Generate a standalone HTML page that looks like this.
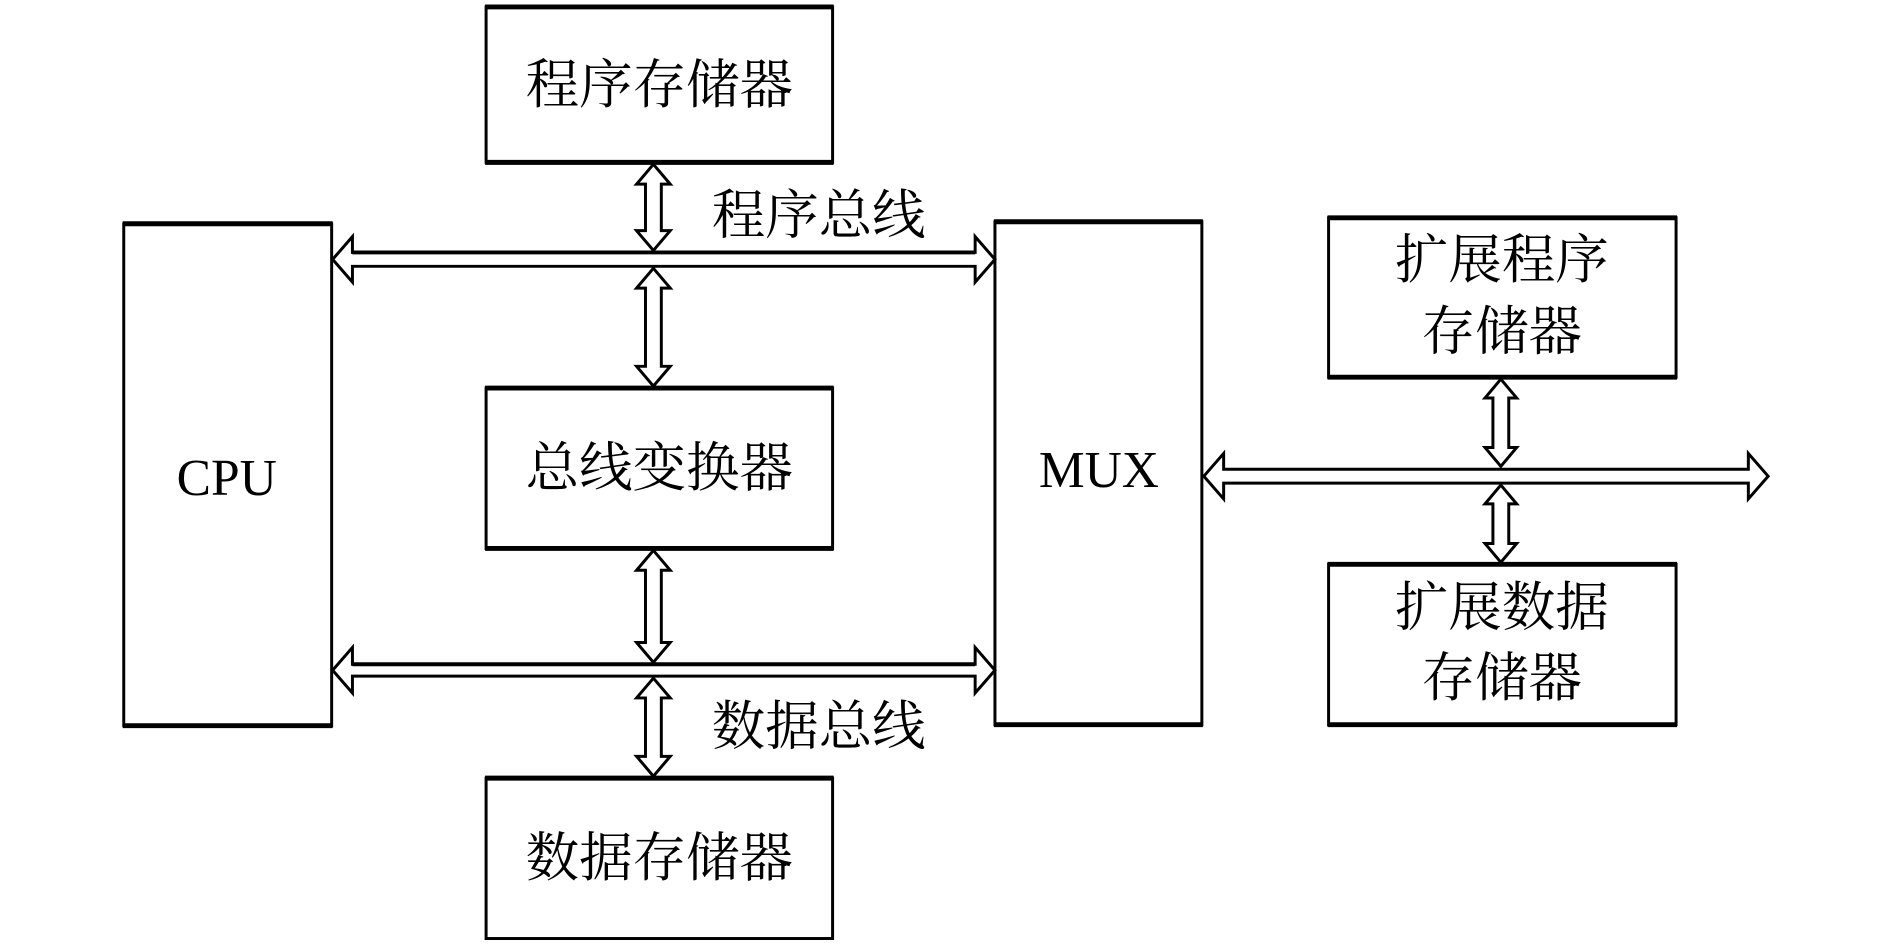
<!DOCTYPE html>
<html><head><meta charset="utf-8"><style>
html,body{margin:0;padding:0;background:#fff;}
svg{display:block;}
text{font-family:"Liberation Serif","Noto Serif CJK SC",serif;fill:#000;}
</style></head><body>
<svg width="1890" height="950" viewBox="0 0 1890 950" xmlns="http://www.w3.org/2000/svg">
<g transform="scale(0.99)">
<g fill="#fff" stroke="#000" stroke-width="3">
<rect x="491" y="7" width="350" height="157"/>
<rect x="125" y="226" width="210" height="507"/>
<rect x="1005" y="224" width="209" height="508"/>
<rect x="491" y="392" width="350" height="162"/>
<rect x="491" y="786" width="350" height="162"/>
<rect x="1342" y="220" width="351" height="161"/>
<rect x="1342" y="570" width="351" height="162"/>
</g>
<g stroke="#000" stroke-width="5">
<line x1="490" y1="7" x2="842" y2="7"/><line x1="490" y1="164" x2="842" y2="164"/>
<line x1="124" y1="226" x2="336" y2="226"/><line x1="124" y1="733" x2="336" y2="733"/>
<line x1="1004" y1="224" x2="1215" y2="224"/><line x1="1004" y1="732" x2="1215" y2="732"/>
<line x1="490" y1="392" x2="842" y2="392"/><line x1="490" y1="554" x2="842" y2="554"/>
<line x1="490" y1="786" x2="842" y2="786"/>
<line x1="1341" y1="220" x2="1694" y2="220"/><line x1="1341" y1="381" x2="1694" y2="381"/>
<line x1="1341" y1="570" x2="1694" y2="570"/><line x1="1341" y1="732" x2="1694" y2="732"/>
</g>
<g fill="#fff" stroke="#000" stroke-width="3" stroke-linejoin="miter">
<polygon points="660,166 677,186 668,186 668,233 677,233 660,253 643,233 652,233 652,186 643,186"/>
<polygon points="660,271 677,291 668,291 668,370 677,370 660,390 643,370 652,370 652,291 643,291"/>
<polygon points="660,556 677,576 668,576 668,649 677,649 660,669 643,649 652,649 652,576 643,576"/>
<polygon points="660,685 677,705 668,705 668,764 677,764 660,784 643,764 652,764 652,705 643,705"/>
<polygon points="1516,383 1532,402 1524,402 1524,452 1532,452 1516,471 1500,452 1508,452 1508,402 1500,402"/>
<polygon points="1516,490 1532,509 1524,509 1524,549 1532,549 1516,568 1500,549 1508,549 1508,509 1500,509"/>
<polygon points="336,262 356,239 356,255 985,255 985,239 1005,262 985,285 985,269 356,269 356,285"/>
<polygon points="336,677 356,654 356,671 985,671 985,654 1005,677 985,700 985,683 356,683 356,700"/>
<polygon points="1216,481 1236,458 1236,474 1766,474 1766,458 1786,481 1766,504 1766,488 1236,488 1236,504"/>
</g>
<g stroke="#000" stroke-width="4">
<line x1="356" y1="255" x2="985" y2="255"/>
<line x1="356" y1="671" x2="985" y2="671"/>
</g>
<g font-size="54" text-anchor="middle">
<text x="666" y="104">程序存储器</text>
<text x="666" y="491">总线变换器</text>
<text x="666" y="885">数据存储器</text>
<text x="827" y="236">程序总线</text>
<text x="827" y="752">数据总线</text>
<text x="1517" y="281">扩展程序</text>
<text x="1517" y="353">存储器</text>
<text x="1517" y="632">扩展数据</text>
<text x="1517" y="703">存储器</text>
<text x="229" y="500" font-size="52">CPU</text>
<text x="1110" y="492" font-size="52">MUX</text>
</g>
</g>
</svg>
</body></html>
